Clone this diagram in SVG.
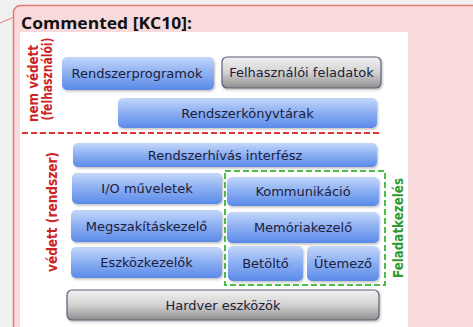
<svg xmlns="http://www.w3.org/2000/svg" width="473" height="327" viewBox="0 0 473 327">
  <defs>
    <linearGradient id="blue" x1="0" y1="0" x2="0" y2="1">
      <stop offset="0" stop-color="#c4d7f9"/>
      <stop offset="0.45" stop-color="#90b2f3"/>
      <stop offset="1" stop-color="#5a8ae8"/>
    </linearGradient>
    <linearGradient id="gray" x1="0" y1="0" x2="0" y2="1">
      <stop offset="0" stop-color="#f2f2f2"/>
      <stop offset="0.5" stop-color="#d2d2d2"/>
      <stop offset="1" stop-color="#8e8e8e"/>
    </linearGradient>
    <filter id="shadow" x="-10%" y="-20%" width="120%" height="150%">
      <feDropShadow dx="1" dy="1.5" stdDeviation="1.2" flood-color="#000" flood-opacity="0.25"/>
    </filter>
    <style>
      .box { fill: url(#blue); filter: url(#shadow); }
      .gbox { fill: url(#gray); stroke: #5c6078; stroke-width: 1.2; filter: url(#shadow); }
      .lbl { font-family: "DejaVu Sans", sans-serif; font-size: 13px; fill: #1c2038; text-anchor: middle; }
      .side { font-family: "DejaVu Sans", sans-serif; font-size: 14px; font-weight: bold; text-anchor: middle; }
      .red { fill: #cc2424; }
      .green { fill: #2f9a2f; }
      .dash-red { stroke: #e03434; stroke-width: 2; stroke-dasharray: 6 3; fill: none; }
      .dash-green { stroke: #4cbc4c; stroke-width: 2; stroke-dasharray: 6 3; fill: none; }
    </style>
  </defs>

  <!-- page background and comment balloon -->
  <rect x="0" y="0" width="473" height="327" fill="#f0f0f0"/>
  <line x1="0" y1="23" x2="14" y2="17" stroke="#e37a7a" stroke-width="1"/>
  <rect x="13.5" y="5.5" width="480" height="340" rx="7" fill="#f8dadc" stroke="#e37a7a" stroke-width="1.5"/>
  <text x="21" y="29" font-family="Open Sans, Noto Sans, sans-serif" font-size="15.5" font-weight="bold" fill="#111" textLength="171" lengthAdjust="spacingAndGlyphs">Commented [KC10]:</text>

  <!-- picture area -->
  <rect x="20" y="32" width="388" height="300" fill="#ffffff"/>

  <!-- side captions -->
  <text class="side red" transform="translate(38,83.5) rotate(-90)" textLength="77" lengthAdjust="spacingAndGlyphs">nem védett</text>
  <text class="side red" transform="translate(51.5,79) rotate(-90)" textLength="83" lengthAdjust="spacingAndGlyphs">(felhasználói)</text>
  <text class="side red" transform="translate(56.5,212) rotate(-90)" textLength="120" lengthAdjust="spacingAndGlyphs">védett (rendszer)</text>
  <text class="side green" transform="translate(402.5,228) rotate(-90)" textLength="100" lengthAdjust="spacingAndGlyphs">Feladatkezelés</text>

  <!-- separators -->
  <g id="connectors">
    <line class="dash-red" x1="22" y1="133" x2="382" y2="133"/>
    <rect class="dash-green" x="225" y="171" width="160" height="114"/>
  </g>

  <!-- user space -->
  <g id="n-rendszerprogramok">
    <rect class="box" x="62" y="57" width="152" height="33" rx="5"/>
    <text class="lbl" x="137" y="78">Rendszerprogramok</text>
  </g>
  <g id="n-felhasznaloi">
    <rect class="gbox" x="222" y="57" width="159" height="31" rx="5"/>
    <text class="lbl" x="301.5" y="77">Felhasználói feladatok</text>
  </g>
  <g id="n-konyvtarak">
    <rect class="box" x="118" y="98" width="259" height="30" rx="5"/>
    <text class="lbl" x="247.5" y="118">Rendszerkönyvtárak</text>
  </g>

  <!-- kernel space -->
  <g id="n-rendszerhivas">
    <rect class="box" x="73" y="143" width="304" height="24" rx="5"/>
    <text class="lbl" x="225" y="160">Rendszerhívás interfész</text>
  </g>
  <g id="n-io">
    <rect class="box" x="72" y="173" width="150" height="31" rx="5"/>
    <text class="lbl" x="147" y="193">I/O műveletek</text>
  </g>
  <g id="n-megszakitas">
    <rect class="box" x="71" y="210" width="151" height="32" rx="5"/>
    <text class="lbl" x="146.5" y="231">Megszakításkezelő</text>
  </g>
  <g id="n-eszkozkezelok">
    <rect class="box" x="71" y="247" width="151" height="31" rx="5"/>
    <text class="lbl" x="146.5" y="267">Eszközkezelők</text>
  </g>
  <g id="n-kommunikacio">
    <rect class="box" x="227" y="177" width="152" height="29" rx="5"/>
    <text class="lbl" x="303" y="196">Kommunikáció</text>
  </g>
  <g id="n-memoria">
    <rect class="box" x="227" y="212" width="152" height="31" rx="5"/>
    <text class="lbl" x="303" y="232">Memóriakezelő</text>
  </g>
  <g id="n-betolto">
    <rect class="box" x="228" y="246" width="75" height="35" rx="5"/>
    <text class="lbl" x="265.5" y="268">Betöltő</text>
  </g>
  <g id="n-utemezo">
    <rect class="box" x="307" y="246" width="72" height="35" rx="5"/>
    <text class="lbl" x="343" y="268">Ütemező</text>
  </g>
  <g id="n-hardver">
    <rect class="gbox" x="67" y="290" width="312" height="30" rx="5"/>
    <text class="lbl" x="223" y="310">Hardver eszközök</text>
  </g>
</svg>
